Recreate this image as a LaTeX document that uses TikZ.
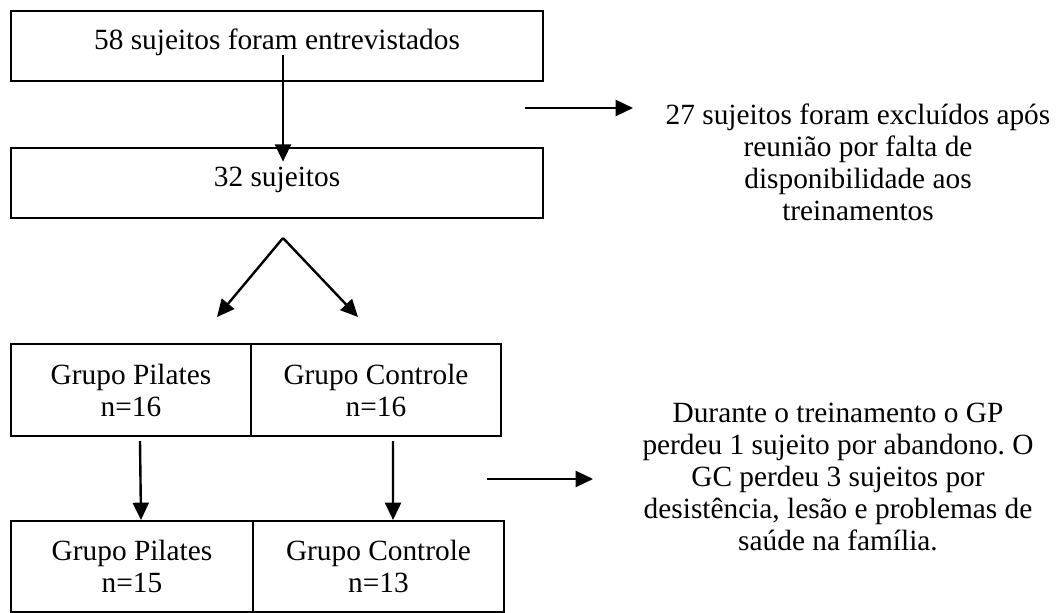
\documentclass[tikz,border=0pt]{standalone}
\usepackage{fontspec}
\setmainfont{Liberation Serif}
\usetikzlibrary{arrows.meta,calc}
\frenchspacing

\begin{document}
\begin{tikzpicture}[
    x=0.75pt, y=-0.75pt,
    flow box/.style={draw, line width=1.5pt, inner sep=0pt, align=center,
        font=\fontsize{22}{24}\selectfont},
    wide box/.style={flow box, minimum width=399pt, minimum height=52.5pt,
        text depth=10pt},
    note text/.style={align=center, inner sep=0pt,
        font=\fontsize{22}{24}\selectfont},
    pile/.style={line width=1.8pt, -{Triangle[length=13pt,width=12pt]}},
    every node/.style={color=black}
    ]
    \useasboundingbox (0,0) rectangle (1059,613);
    % Boxes
    \node[wide box] (entrev) at (277,46) {58 sujeitos foram entrevistados};
    \node[wide box] (amostra) at (277,183) {32 sujeitos};
    \node[flow box, minimum width=180pt, minimum height=69pt] (gpA)
        at (131,390) {Grupo Pilates\\n=16};
    \node[flow box, minimum width=187.5pt, minimum height=69pt] (gcA)
        at (376,390) {Grupo Controle\\n=16};
    \node[flow box, minimum width=181.5pt, minimum height=68.25pt] (gpB)
        at (132,566.5) {Grupo Pilates\\n=15};
    \node[flow box, minimum width=188.25pt, minimum height=68.25pt] (gcB)
        at (378.5,566.5) {Grupo Controle\\n=13};
    % Side notes
    \node[note text] (excl) at (858,162)
        {27 sujeitos foram excluídos após\\reunião por falta de\\
         disponibilidade aos\\treinamentos};
    \node[note text] (perdas) at (838,477)
        {Durante o treinamento o GP\\perdeu 1 sujeito por abandono. O\\
         GC perdeu 3 sujeitos por\\desistência, lesão e problemas de\\
         saúde na família.};
    % Free ends of the arrows
    \coordinate (top start) at (283,55);
    \coordinate (split) at (283,238);
    \coordinate (split left) at (217,317);
    \coordinate (split right) at (358,317);
    \coordinate (excl start) at (525,108);
    \coordinate (excl end) at (633,108);
    \coordinate (perdas start) at (487,479);
    \coordinate (perdas end) at (593,479);
    % Arrows
    \draw[pile] (top start) -- ([yshift=-11pt]amostra.north -| top start);
    \draw[pile] (split) -- (split left);
    \draw[pile] (split) -- (split right);
    \draw[pile] ([shift={(9,4)}]gpA.south) -- ([xshift=6.75pt]gpB.north);
    \draw[pile] ([shift={(17,4)}]gcA.south) -- ([xshift=10.9pt]gcB.north);
    \draw[pile] (excl start) -- (excl end);
    \draw[pile] (perdas start) -- (perdas end);
\end{tikzpicture}
\end{document}
